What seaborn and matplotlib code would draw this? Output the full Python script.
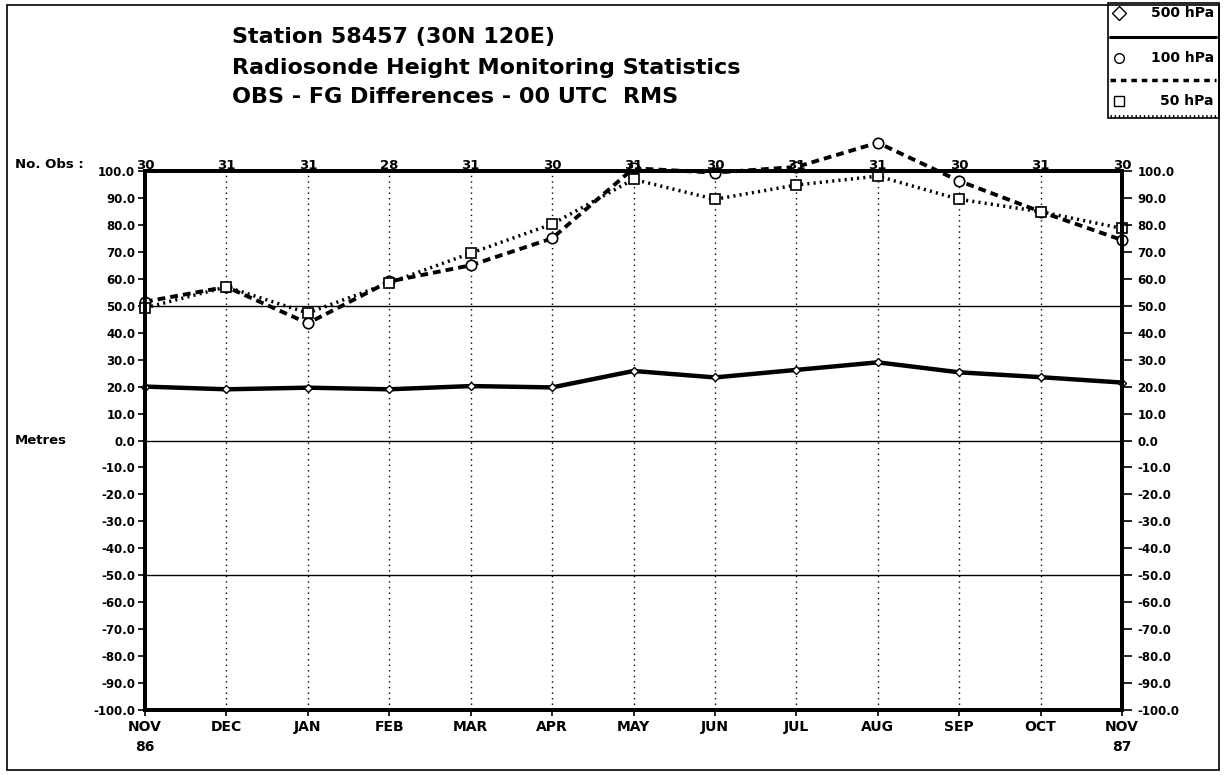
import numpy as np
import pandas as pd
import matplotlib.pyplot as plt
import seaborn as sns
from matplotlib.lines import Line2D
from matplotlib.patches import Rectangle


months = ["NOV\n86", "DEC", "JAN", "FEB", "MAR", "APR", "MAY", "JUN",
          "JUL", "AUG", "SEP", "OCT", "NOV\n87"]
n_obs = [30, 31, 31, 28, 31, 30, 31, 30, 31, 31, 30, 31, 30]
rms_500 = [20.0, 19.0, 19.6, 19.0, 20.2, 19.7, 25.8, 23.4, 26.2, 29.0, 25.3, 23.5, 21.5]
rms_100 = [51.5, 57.0, 43.5, 59.0, 65.0, 75.0, 101.0, 99.4, 101.5, 110.5, 96.3, 84.9, 74.4]
rms_50 = [49.2, 57.0, 47.3, 58.5, 69.5, 80.3, 96.9, 89.5, 94.8, 98.1, 89.5, 84.9, 78.7]

df = pd.DataFrame({"step": range(len(months)), "p500": rms_500,
                   "p100": rms_100, "p50": rms_50})

sns.set_style("ticks")
plt.rcParams["font.family"] = ["DejaVu Sans"]
plt.rcParams["font.weight"] = "bold"
for key in ("text.color", "axes.labelcolor", "xtick.color", "ytick.color",
            "axes.edgecolor"):
    plt.rcParams[key] = "black"

W, H = 1224, 775
fig = plt.figure(figsize=(W / 100, H / 100), dpi=100)
ax = fig.add_axes([145 / W, 1 - 710 / H, (1122 - 145) / W, (710 - 171) / H])

# reference lines
for m in range(1, 12):
    ax.axvline(m, color="black", lw=1.0, linestyle=(0, (1, 3)), zorder=1)
for yv in (-50, 0, 50):
    ax.axhline(yv, color="black", lw=1.0, zorder=1)

sns.lineplot(data=df, x="step", y="p500", ax=ax, color="black", lw=3.2,
             marker="D", markersize=4.5, markerfacecolor="white",
             markeredgecolor="black", markeredgewidth=1.0)
sns.lineplot(data=df, x="step", y="p100", ax=ax, color="black", lw=2.8,
             linestyle=(0, (2.0, 1.3)), marker="o", markersize=7.5,
             markerfacecolor="white", markeredgecolor="black", markeredgewidth=1.2)
sns.lineplot(data=df, x="step", y="p50", ax=ax, color="black", lw=2.5,
             linestyle=(0, (0.6, 1.2)), marker="s", markersize=7.5,
             markerfacecolor="white", markeredgecolor="black", markeredgewidth=1.2)
for ln in ax.lines:
    ln.set_clip_on(False)

ax.set_xlim(0, 12)
ax.set_ylim(-100, 100)
yt = np.arange(-100, 101, 10)
ax.set_yticks(yt)
ax.set_yticklabels([f"{v:.1f}" for v in yt], fontsize=8.5, fontweight="bold")
ax.set_xticks(range(len(months)))
ax.set_xticklabels(months, fontsize=10, fontweight="bold", linespacing=1.6)
ax.set_xlabel("")
ax.set_ylabel("")
ax.tick_params(axis="y", direction="out", length=5, width=1.2, pad=2)
ax.tick_params(axis="x", direction="out", length=4, width=1.2, pad=3)
for sp in ax.spines.values():
    sp.set_linewidth(2.8)

ax2 = ax.twinx()
ax2.set_ylim(-100, 100)
ax2.set_yticks(yt)
ax2.set_yticklabels([f"{v:.1f}" for v in yt], fontsize=8.5, fontweight="bold")
ax2.tick_params(axis="y", direction="out", length=7, width=1.2, pad=4)
for sp in ax2.spines.values():
    sp.set_linewidth(2.8)

# No. Obs row
for i, n in enumerate(n_obs):
    ax.text(i, 1.011, str(n), transform=ax.get_xaxis_transform(),
            ha="center", va="center", fontsize=9.5, fontweight="bold")
fig.text(15 / W, 1 - 165 / H, "No. Obs :", ha="left", va="center",
         fontsize=9.5, fontweight="bold")
fig.text(15 / W, 1 - 440 / H, "Metres", ha="left", va="center",
         fontsize=9.5, fontweight="bold")

# title
titles = ["Station 58457 (30N 120E)",
          "Radiosonde Height Monitoring Statistics",
          "OBS - FG Differences - 00 UTC  RMS"]
for t, yp in zip(titles, (37, 68, 97)):
    fig.text(232 / W, 1 - yp / H, t, ha="left", va="center",
             fontsize=16, fontweight="bold")

# legend box
fig.add_artist(Rectangle((1108 / W, 1 - 118 / H), 111 / W, 115 / H,
                         transform=fig.transFigure, fill=False, lw=1.2,
                         edgecolor="black"))
leg = [("D", "500 hPa", 13, 2.2, "-", 37),
       ("o", "100 hPa", 58, 2.5, (0, (1.6, 1.4)), 80),
       ("s", "50 hPa", 101, 2.0, (0, (0.5, 1.0)), 116)]
for mk, lab, ym, lw, ls, yl in leg:
    fig.add_artist(Line2D([1119 / W], [1 - ym / H], marker=mk, markersize=7,
                          markerfacecolor="white", markeredgecolor="black",
                          markeredgewidth=1.0, transform=fig.transFigure))
    fig.text(1214 / W, 1 - ym / H, lab, ha="right", va="center",
             fontsize=10, fontweight="bold")
    fig.add_artist(Line2D([1110 / W, 1216 / W], [1 - yl / H, 1 - yl / H],
                          color="black", lw=lw, linestyle=ls,
                          transform=fig.transFigure))

# outer frame
fig.add_artist(Rectangle((7 / W, 5 / H), 1212 / W, 765 / H,
                         transform=fig.transFigure, fill=False, lw=1.2,
                         edgecolor="black"))

fig.savefig("out.png", dpi=100)
